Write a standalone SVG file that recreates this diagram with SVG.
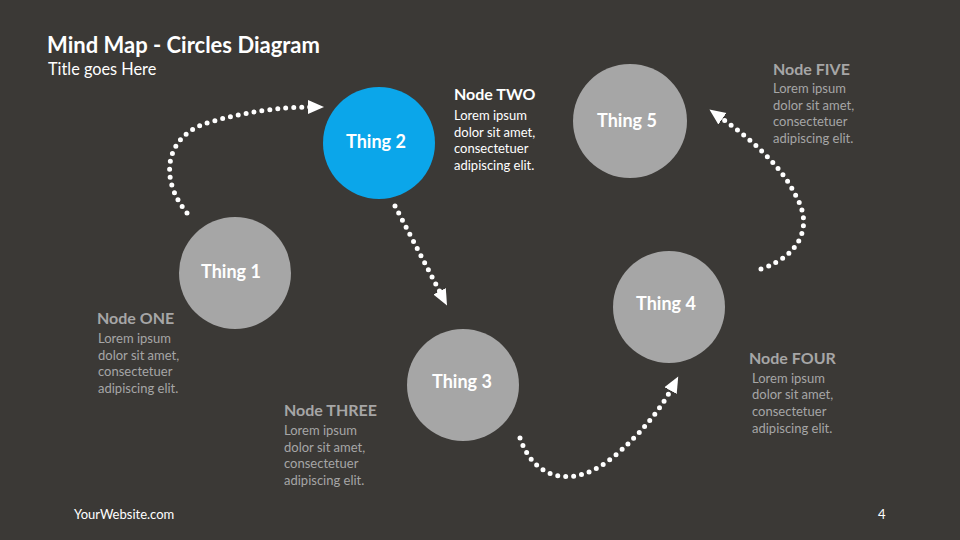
<svg xmlns="http://www.w3.org/2000/svg" width="960" height="540" viewBox="0 0 960 540">
<defs>
<style>
text{font-family:Lato,"Open Sans","Liberation Sans",sans-serif}
.title{font-size:22px;font-weight:bold;fill:#ffffff}
.sub{font-size:16.3px;fill:#ffffff}
.thing{font-size:18px;font-weight:bold;fill:#ffffff;text-anchor:middle}
.head{font-size:16px;font-weight:bold;fill:#a6a6a6}
.body{font-size:13px;fill:#a6a6a6}
.w{fill:#ffffff}
.grey{fill:#a6a6a6}
.blue{fill:#0ba6ea}
.dots{fill:none;stroke:#ffffff;stroke-width:5;stroke-linecap:round;stroke-dasharray:0 8}
.foot{font-size:13px;fill:#ffffff}
</style>
<marker id="ah" markerUnits="userSpaceOnUse" markerWidth="18" markerHeight="16" refX="3" refY="8" orient="auto">
<path d="M0,1 L16,8 L0,15 Z" fill="#ffffff"/>
</marker>
</defs>
<rect width="960" height="540" fill="#3b3936"/>
<text class="title" x="47" y="53">Mind Map - Circles Diagram</text>
<text class="sub" x="48" y="75">Title goes Here</text>

<g id="connectors">
<path class="dots" d="M187,213 C158,178 165,135 210,122 C245,112 280,107 311,107" marker-end="url(#ah)"/>
<path class="dots" d="M395,206 L441,294" marker-end="url(#ah)"/>
<path class="dots" d="M520,438 C535,482 575,488 612,458 C640,435 660,410 672,388" marker-end="url(#ah)"/>
<path class="dots" d="M761,269 C802,255 812,225 797,198 C782,166 752,140 720,117" marker-end="url(#ah)"/>
</g>

<g id="node1">
<circle class="grey" cx="235" cy="273" r="56"/>
<text class="thing" x="231" y="278">Thing 1</text>
<text class="head" x="97" y="324">Node ONE</text>
<text class="body" x="98" y="343">Lorem ipsum</text>
<text class="body" x="98" y="360">dolor sit amet,</text>
<text class="body" x="98" y="376">consectetuer</text>
<text class="body" x="98" y="393">adipiscing elit.</text>
</g>

<g id="node2">
<circle class="blue" cx="379" cy="143" r="56"/>
<text class="thing" x="376" y="148">Thing 2</text>
<text class="head w" x="454" y="100">Node TWO</text>
<text class="body w" x="454" y="120">Lorem ipsum</text>
<text class="body w" x="454" y="137">dolor sit amet,</text>
<text class="body w" x="454" y="153">consectetuer</text>
<text class="body w" x="454" y="170">adipiscing elit.</text>
</g>

<g id="node3">
<circle class="grey" cx="463" cy="385" r="56"/>
<text class="thing" x="462" y="388">Thing 3</text>
<text class="head" x="284" y="416">Node THREE</text>
<text class="body" x="284" y="435">Lorem ipsum</text>
<text class="body" x="284" y="452">dolor sit amet,</text>
<text class="body" x="284" y="468">consectetuer</text>
<text class="body" x="284" y="485">adipiscing elit.</text>
</g>

<g id="node4">
<circle class="grey" cx="669" cy="307" r="56"/>
<text class="thing" x="666" y="310">Thing 4</text>
<text class="head" x="749" y="364">Node FOUR</text>
<text class="body" x="752" y="383">Lorem ipsum</text>
<text class="body" x="752" y="399">dolor sit amet,</text>
<text class="body" x="752" y="416">consectetuer</text>
<text class="body" x="752" y="433">adipiscing elit.</text>
</g>

<g id="node5">
<circle class="grey" cx="630" cy="121" r="57"/>
<text class="thing" x="627" y="127">Thing 5</text>
<text class="head" x="773" y="75">Node FIVE</text>
<text class="body" x="773" y="93">Lorem ipsum</text>
<text class="body" x="773" y="110">dolor sit amet,</text>
<text class="body" x="773" y="126">consectetuer</text>
<text class="body" x="773" y="143">adipiscing elit.</text>
</g>

<text class="foot" x="74" y="519">YourWebsite.com</text>
<text class="foot" x="878" y="519">4</text>
</svg>
